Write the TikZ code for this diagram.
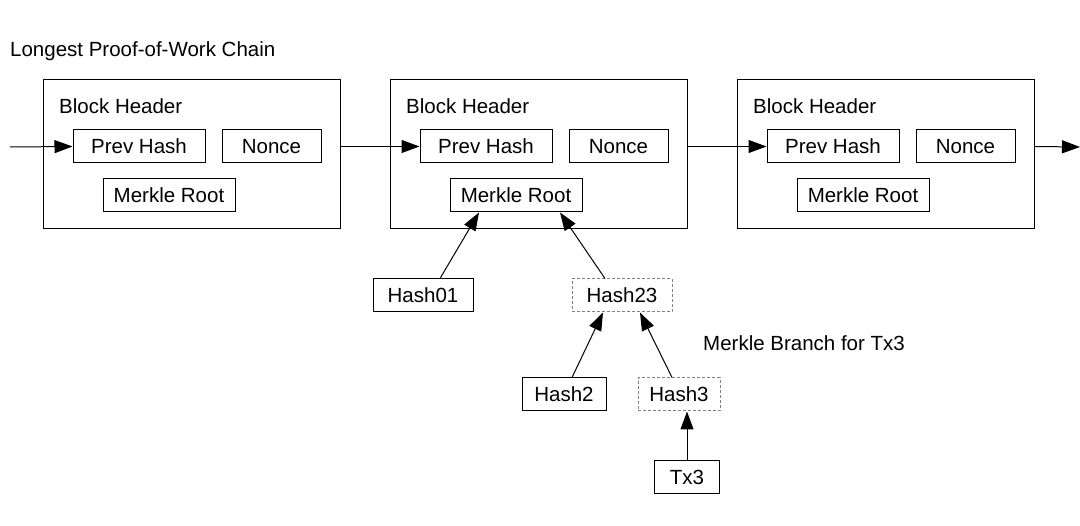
\documentclass[tikz,border=0pt]{standalone}
\usepackage{fontspec}
\setmainfont{Liberation Sans}
\usetikzlibrary{arrows.meta,calc}
\begin{document}
\begin{tikzpicture}[x=1pt,y=-1pt,
  every node/.style={font=\fontsize{20.5}{24}\selectfont},
  box/.style={draw=black,line width=1pt,inner sep=0pt,minimum height=33pt},
  dbox/.style={draw=gray,line width=1pt,dash pattern=on 3pt off 2pt,inner sep=0pt,minimum height=33pt},
  block/.style={draw=black,line width=1pt,inner sep=0pt,minimum width=297pt,minimum height=149pt},
  arr/.style={line width=1pt,-{Triangle[length=18pt,width=13pt]}},
  lbl/.style={anchor=west,inner sep=0pt}]
\useasboundingbox (0,0) rectangle (1080,526);
\node[lbl] (title) at (10,51) {Longest Proof-of-Work Chain};
% blocks
\foreach \i/\l in {1/43,2/390,3/737}{
  \node[block] (b\i) at (\l+148.5,154.5) {};
  \node[lbl] (bh\i) at (\l+16,106) {Block Header};
  \node[box,minimum width=132pt] (p\i) at (\l+96,146.5) {Prev Hash};
  \node[box,minimum width=99pt] (n\i) at (\l+228.5,146.5) {Nonce};
  \node[box,minimum width=132pt] (m\i) at (\l+126,195.5) {Merkle Root};
}
\coordinate (in) at (10,147);
\coordinate (out) at (1080,147);
\draw[arr] (in) -- (p1.west);
\draw[arr] (b1.east |- p2.west) -- (p2.west);
\draw[arr] (b2.east |- p3.west) -- (p3.west);
\draw[arr] (b3.east |- p3.west) -- (out);
% merkle tree
\node[box,minimum width=100pt] (h01) at (423,295.5) {Hash01};
\node[dbox,minimum width=100pt] (h23) at (622,295.5) {Hash23};
\node[box,minimum width=84pt] (h2) at (564,394.5) {Hash2};
\node[dbox,minimum width=82pt] (h3) at (679,394.5) {Hash3};
\node[box,minimum width=65pt] (tx3) at (687,477.5) {Tx3};
\node[lbl] (mb) at (703,343) {Merkle Branch for Tx3};
\draw[arr] ([xshift=17pt]h01.north) -- ([xshift=-37pt]m2.south);
\draw[arr] ([xshift=-17pt]h23.north) -- ([xshift=44pt]m2.south);
\draw[arr] ([xshift=8pt]h2.north) -- ([xshift=-19pt]h23.south);
\draw[arr] ([xshift=-7pt]h3.north) -- ([xshift=18pt]h23.south);
\draw[arr] (tx3.north) -- (tx3.north |- h3.south);
\end{tikzpicture}
\end{document}
